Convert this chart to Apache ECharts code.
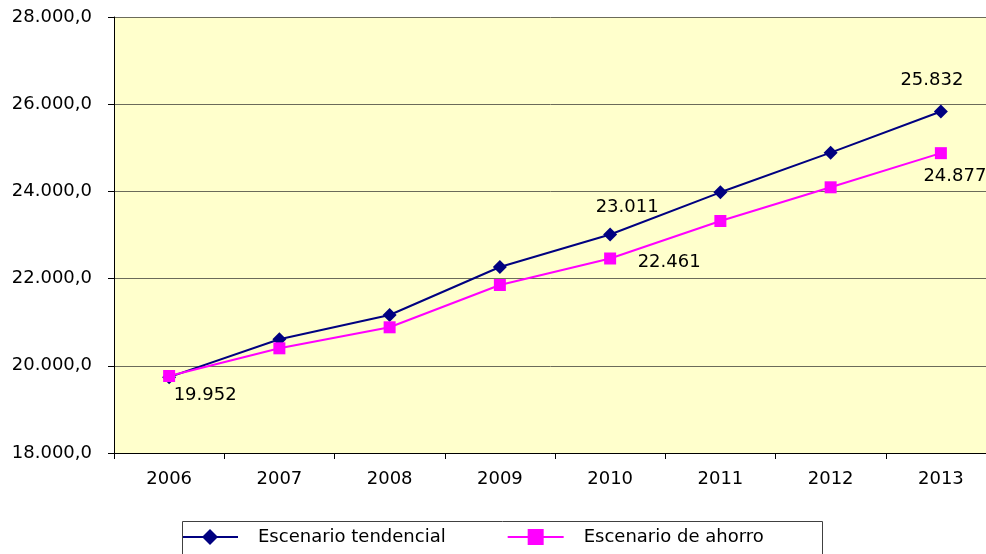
<!DOCTYPE html>
<html>
<head>
<meta charset="utf-8">
<script src="https://cdn.jsdelivr.net/npm/echarts@6/dist/echarts.min.js"></script>
<style>html,body{margin:0;padding:0;background:#fff;}#c{width:986px;height:554px;}</style>
</head>
<body>
<div id="c"></div>
<script>
const categories = ['2006', '2007', '2008', '2009', '2010', '2011', '2012', '2013'];
const tendencial = [19740, 20608, 21165, 22266, 23011, 23979, 24888, 25832];
const ahorro = [19766, 20401, 20883, 21853, 22461, 23321, 24094, 24877];
const labelsTendencial = [null, null, null, null, '23.011', null, null, '25.832'];
const labelsAhorro = ['19.952', null, null, null, '22.461', null, null, '24.877'];
const yTicks = [18000, 20000, 22000, 24000, 26000, 28000];
const seriesNames = ['Escenario tendencial', 'Escenario de ahorro'];

const FONT = 'DejaVu Sans';
const labelOffsetsT = {4: [17, -27], 7: [-9, -31]};
const labelOffsetsA = {0: [36, 19], 4: [59, 4], 7: [14, 23]};

function fmt(v) {
  const s = String(Math.round(v));
  return s.replace(/\B(?=(\d{3})+(?!\d))/g, '.') + ',0';
}

function buildData(values, labels, offsets) {
  return values.map((v, i) => {
    const item = {value: v};
    if (labels[i]) {
      item.label = {
        show: true, formatter: labels[i], position: 'inside',
        offset: offsets[i], color: '#000', fontFamily: FONT, fontSize: 18
      };
    }
    return item;
  });
}

const chart = echarts.init(document.getElementById('c'), null, {renderer: 'canvas'});
chart.setOption({
  animation: false,
  backgroundColor: '#ffffff',
  grid: {
    left: 114, top: 17, width: 882, bottom: 101,
    containLabel: false, outerBoundsMode: 'none',
    show: true, backgroundColor: '#FFFFCC', borderWidth: 0
  },
  xAxis: {
    type: 'category', data: categories, boundaryGap: true,
    axisLine: {lineStyle: {color: '#000', width: 1}},
    axisTick: {show: true, length: 6, lineStyle: {color: '#000'}},
    axisLabel: {color: '#000', fontFamily: FONT, fontSize: 18, margin: 17},
    splitLine: {show: false}
  },
  yAxis: {
    type: 'value', min: yTicks[0], max: yTicks[yTicks.length - 1], interval: 2000,
    axisLine: {show: true, lineStyle: {color: '#000', width: 1}},
    axisTick: {show: true, length: 6, lineStyle: {color: '#000'}},
    axisLabel: {color: '#000', fontFamily: FONT, fontSize: 18, margin: 22, formatter: fmt},
    splitLine: {show: true, lineStyle: {color: '#6b6b5a', width: 1}}
  },
  legend: {
    left: 176, top: 523, data: seriesNames,
    itemWidth: 56, itemHeight: 20, itemGap: 61,
    textStyle: {color: '#000', fontFamily: FONT, fontSize: 18, padding: [0, 0, 0, 15]}
  },
  graphic: [{
    type: 'rect', left: 180, top: 519,
    shape: {width: 640, height: 40},
    style: {fill: 'none', stroke: '#404040', lineWidth: 1}, z: 100
  }],
  series: [
    {
      name: seriesNames[0], type: 'line', data: buildData(tendencial, labelsTendencial, labelOffsetsT),
      symbol: 'diamond', symbolSize: 14,
      lineStyle: {color: '#000080', width: 2},
      itemStyle: {color: '#000080'}
    },
    {
      name: seriesNames[1], type: 'line', data: buildData(ahorro, labelsAhorro, labelOffsetsA),
      symbol: 'rect', symbolSize: 12,
      lineStyle: {color: '#FF00FF', width: 2},
      itemStyle: {color: '#FF00FF'}
    }
  ]
});
</script>
</body>
</html>
